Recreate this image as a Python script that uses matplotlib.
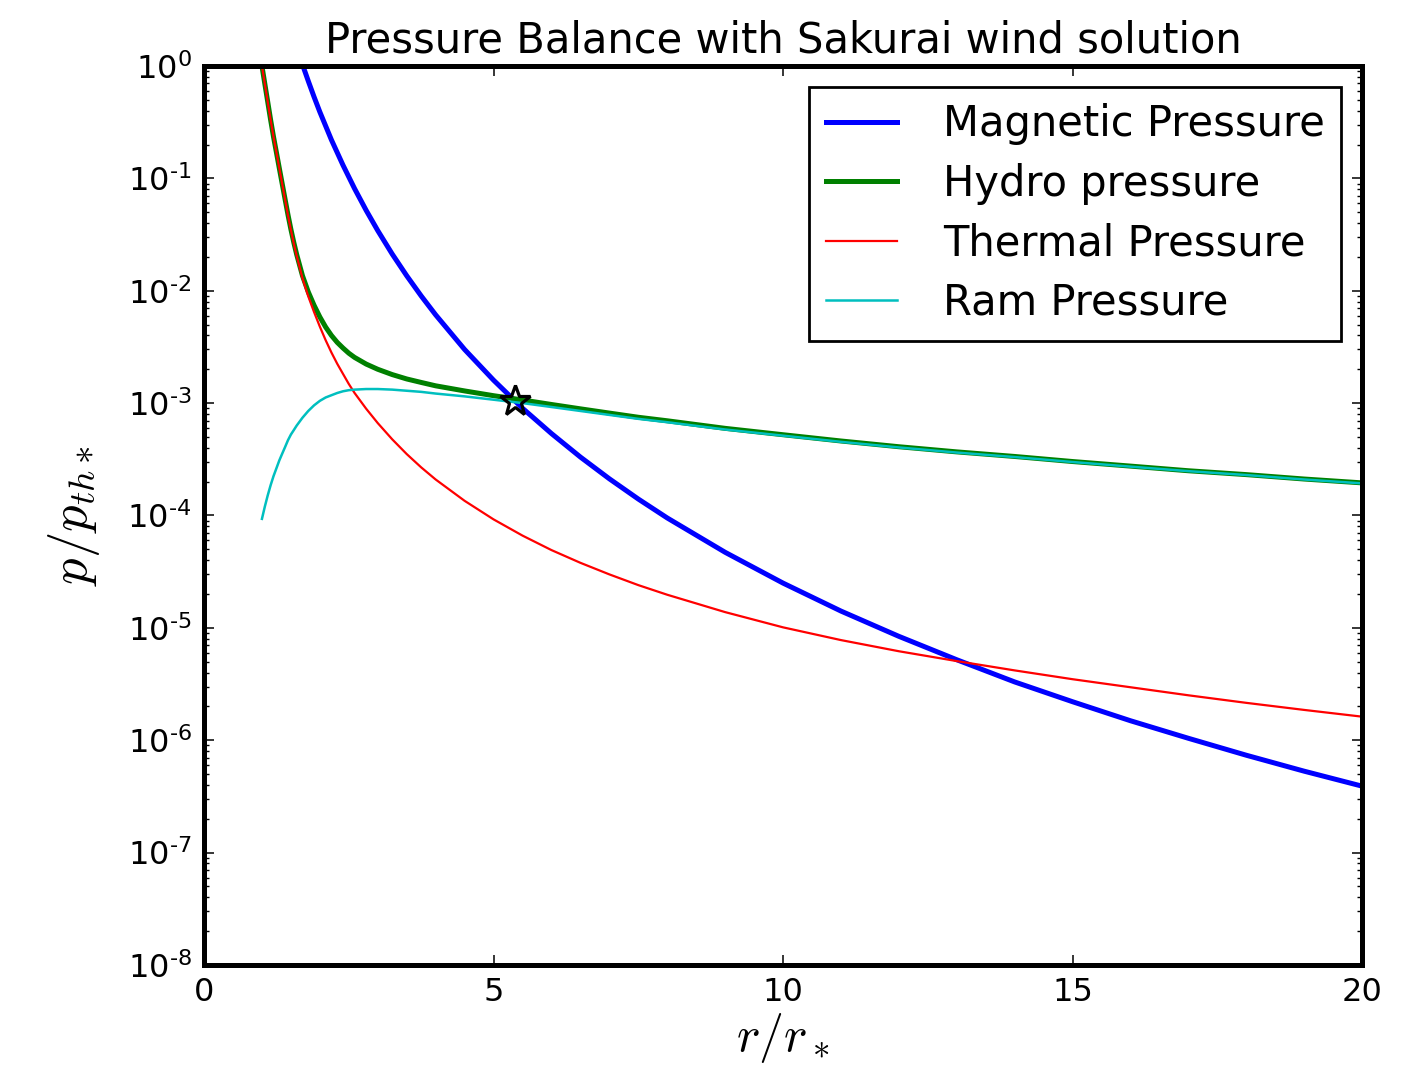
import math

import matplotlib
matplotlib.use("Agg")
import matplotlib.pyplot as plt
from matplotlib.ticker import FixedLocator, FuncFormatter, NullFormatter

# radial grid of the wind solution (r / r_*)
r_wind = [1.0, 1.05, 1.1, 1.15, 1.2, 1.25, 1.3, 1.35, 1.4, 1.45, 1.5, 1.55,
          1.6, 1.7, 1.8, 1.9, 2.0, 2.1, 2.2, 2.3, 2.4, 2.5, 2.6, 2.8, 3.0,
          3.25, 3.5, 3.75, 4.0, 4.5, 5.0, 5.5, 6.0, 6.5, 7.0, 7.5, 8.0, 9.0,
          10.0, 11.0, 12.0, 13.0, 14.0, 15.0, 16.0, 17.0, 18.0, 19.0, 20.0]

p_thermal = [1.0, 0.692, 0.479, 0.331, 0.234, 0.170, 0.123, 0.0891, 0.0646,
             0.0468, 0.0347, 0.0263, 0.0204, 0.0129, 8.91e-3, 6.46e-3,
             4.79e-3, 3.63e-3, 2.82e-3, 2.24e-3, 1.82e-3, 1.48e-3, 1.23e-3,
             8.91e-4, 6.64e-4, 4.76e-4, 3.52e-4, 2.68e-4, 2.09e-4, 1.35e-4,
             9.23e-5, 6.62e-5, 4.92e-5, 3.79e-5, 2.99e-5, 2.40e-5, 1.97e-5,
             1.38e-5, 1.01e-5, 7.78e-6, 6.19e-6, 5.06e-6, 4.18e-6, 3.49e-6,
             2.96e-6, 2.51e-6, 2.15e-6, 1.86e-6, 1.62e-6]

p_ram = [9.33e-5, 1.20e-4, 1.51e-4, 1.86e-4, 2.24e-4, 2.63e-4, 3.09e-4,
         3.55e-4, 4.07e-4, 4.68e-4, 5.25e-4, 5.75e-4, 6.31e-4, 7.41e-4,
         8.51e-4, 9.55e-4, 1.047e-3, 1.122e-3, 1.175e-3, 1.23e-3, 1.274e-3,
         1.303e-3, 1.318e-3, 1.334e-3, 1.334e-3, 1.318e-3, 1.288e-3,
         1.259e-3, 1.216e-3, 1.148e-3, 1.072e-3, 1.0e-3, 9.23e-4, 8.51e-4,
         7.85e-4, 7.24e-4, 6.76e-4, 5.82e-4, 5.13e-4, 4.52e-4, 4.03e-4,
         3.63e-4, 3.31e-4, 2.99e-4, 2.72e-4, 2.48e-4, 2.29e-4, 2.09e-4,
         1.93e-4]

p_hydro = [1.0, 0.692, 0.479, 0.331, 0.234, 0.170, 0.123, 0.0894, 0.0650,
           0.0473, 0.0352, 0.0269, 0.0210, 0.0136, 9.76e-3, 7.42e-3, 5.84e-3,
           4.75e-3, 4.0e-3, 3.47e-3, 3.09e-3, 2.78e-3, 2.55e-3, 2.225e-3,
           2.0e-3, 1.794e-3, 1.64e-3, 1.527e-3, 1.425e-3, 1.283e-3, 1.164e-3,
           1.066e-3, 9.72e-4, 8.89e-4, 8.15e-4, 7.48e-4, 6.96e-4, 5.96e-4,
           5.23e-4, 4.6e-4, 4.09e-4, 3.68e-4, 3.35e-4, 3.02e-4, 2.75e-4,
           2.5e-4, 2.31e-4, 2.11e-4, 1.95e-4]

# dipole field pressure
r_mag = [1.7, 1.8, 1.9, 2.0, 2.2, 2.4, 2.6, 2.8, 3.0, 3.25, 3.5, 3.75, 4.0,
         4.5, 5.0, 5.5, 6.0, 6.5, 7.0, 7.5, 8.0, 9.0, 10.0, 11.0, 12.0, 13.0,
         14.0, 15.0, 16.0, 17.0, 18.0, 19.0, 20.0]
p_mag = [1.03, 0.735, 0.531, 0.39, 0.220, 0.131, 0.081, 0.0519, 0.0343,
         0.0212, 0.0136, 8.99e-3, 6.1e-3, 3.0e-3, 1.6e-3, 9.0e-4, 5.36e-4,
         3.31e-4, 2.12e-4, 1.40e-4, 9.5e-5, 4.7e-5, 2.5e-5, 1.41e-5, 8.4e-6,
         5.2e-6, 3.3e-6, 2.2e-6, 1.49e-6, 1.04e-6, 7.35e-7, 5.3e-7, 3.9e-7]

# balance point (magnetic = hydro)
r_balance = 5.37
p_balance = 1.05e-3

x_ticks = [0, 5, 10, 15, 20]
y_decades = [-8, -7, -6, -5, -4, -3, -2, -1, 0]


def decade_label(v, pos):
    exp = round(math.log10(v))
    # short hyphen in the exponent, as the old mathtext default drew it
    return r"$\mathregular{10^{%s}}$" % str(exp).replace("-", "\u2010")


fig = plt.figure(figsize=(14.14, 10.73), dpi=100)
ax = fig.add_axes([0.1443, 0.1007, 0.819, 0.8378])

ax.plot(r_mag, p_mag, color=(0, 0, 1), lw=3.6, label="Magnetic Pressure")
ax.plot(r_wind, p_hydro, color=(0, 0.5, 0), lw=3.6, label="Hydro pressure")
ax.plot(r_wind, p_thermal, color=(1, 0, 0), lw=1.6, label="Thermal Pressure")
ax.plot(r_wind, p_ram, color=(0, 0.75, 0.75), lw=1.8, label="Ram Pressure")
ax.plot([r_balance], [p_balance], marker="*", ms=23, mfc="none", mec="k",
        mew=2.3, ls="none")

ax.set_yscale("log")
ax.set_xlim(0, 20)
ax.set_ylim(1e-8, 1e0)

ax.xaxis.set_major_locator(FixedLocator(x_ticks))
ax.yaxis.set_major_locator(FixedLocator([10.0 ** d for d in y_decades]))
ax.yaxis.set_minor_locator(FixedLocator(
    [s * 10.0 ** d for d in y_decades[:-1] for s in range(2, 10)]))
ax.yaxis.set_minor_formatter(NullFormatter())
ax.yaxis.set_major_formatter(FuncFormatter(decade_label))

ax.tick_params(which="both", direction="in", top=True, right=True,
               labelsize=23, color="k")
ax.tick_params(which="major", length=7, width=1.1, pad=9)
ax.tick_params(which="minor", length=3.5, width=1.0)
for sp in ax.spines.values():
    sp.set_linewidth(3.6)

ax.set_title("Pressure Balance with Sakurai wind solution", fontsize=30, pad=10)
ax.set_xlabel(r"$r/r_*$", fontsize=36, math_fontfamily="cm", labelpad=2)
ax.set_ylabel(r"$p/p_{th*}$", fontsize=38, math_fontfamily="cm", labelpad=18)

leg = ax.legend(loc="upper right", fontsize=30, handlelength=1.7,
                handletextpad=1.1, labelspacing=0.42, borderpad=0.4,
                borderaxespad=0.5, fancybox=False, framealpha=1)
leg.get_frame().set_edgecolor("k")
leg.get_frame().set_linewidth(2.0)

fig.savefig("out.png", dpi=100)
